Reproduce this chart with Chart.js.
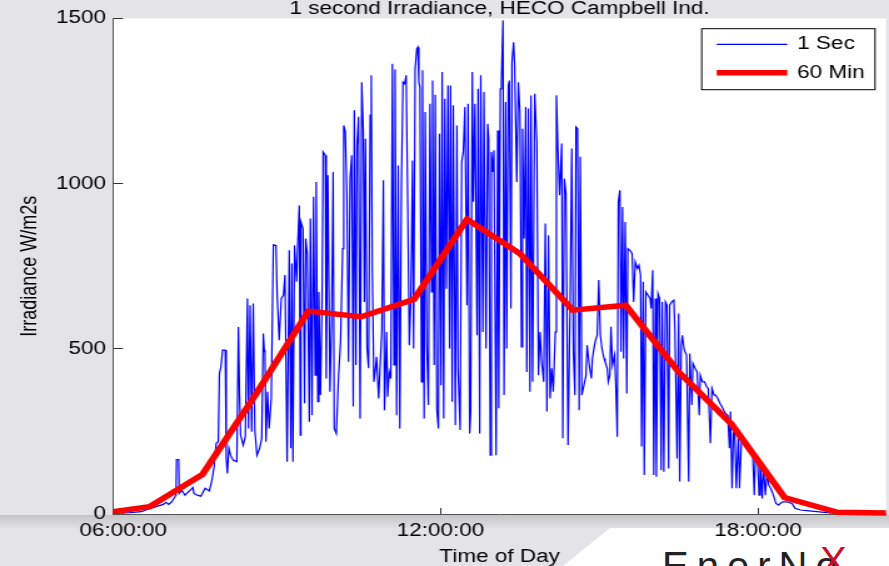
<!DOCTYPE html>
<html>
<head>
<meta charset="utf-8">
<title>1 second Irradiance</title>
<script src="https://cdn.jsdelivr.net/npm/chart.js@4.4.1/dist/chart.umd.min.js"></script>
<style>
  html, body { margin: 0; padding: 0; }
  body {
    width: 889px; height: 566px; overflow: hidden; position: relative;
    background: #e4e4e6; font-family: "Liberation Sans", Arial, sans-serif;
  }
  /* slide decoration under the axis */
  #band { position: absolute; left: 0; top: 515px; width: 889px; height: 13px;
          background: linear-gradient(#c6c6c8, #dfdfe1); }
  #slide { position: absolute; left: 0; top: 528px; width: 889px; height: 38px; background: #fff;
           clip-path: polygon(610px 0, 889px 0, 889px 38px, 563px 38px); }
  #logo { position: absolute; left: 662px; top: 546px; font-size: 40px; line-height: 40px;
          letter-spacing: 8px; color: #222; white-space: nowrap; }
  #logoX { position: absolute; left: 820px; top: 541px; font-size: 40px; line-height: 40px; color: #c8102e; }
  /* the source picture is stretched sideways, so the chart is too; the title is cut at the top */
  #wrap { position: absolute; left: 0; top: -6px; width: 711px; height: 572px;
          transform: scaleX(1.2504); transform-origin: 0 0; }
</style>
</head>
<body>
<div id="band"></div>
<div id="slide"></div>
<div id="logo">EnerNo</div>
<div id="logoX">X</div>
<div id="wrap"><canvas id="chart" width="711" height="572"></canvas></div>
<script>
// axes (hours of the day, W/m2)
const xMinHour = 5.81;
const xMaxHour = 20.42;
const timeTicks = [6, 12, 18];
const irrTicks = [0, 500, 1000, 1500];

// 60 minute means
const hourTimes = [5.5, 6.5, 7.5, 8.5, 9.5, 10.5, 11.5, 12.5, 13.5, 14.5, 15.5, 16.5, 17.5, 18.5, 19.5, 20.5];
const hourMeans = [0, 22, 120, 360, 614, 597, 650, 892, 788, 617, 632, 430, 272, 50, 5, 3];

// 1 second samples, [hour, W/m2]
const secSamples = [
  [5.80,2],[6.13,4],[6.35,7],[6.45,14],[6.76,29],[6.81,35],[6.86,29],[6.92,37],[6.96,47],[7.00,57],
  [7.01,165],[7.05,165],[7.06,62],[7.11,72],[7.17,57],[7.27,72],[7.32,80],[7.34,62],[7.40,57],[7.47,54],
  [7.55,78],[7.63,70],[7.68,103],[7.72,143],[7.76,214],[7.80,219],[7.82,425],[7.85,446],[7.88,496],[7.93,496],
  [7.95,168],[7.97,123],[8.00,199],[8.03,178],[8.08,163],[8.15,158],[8.18,566],[8.20,365],[8.22,239],[8.27,209],
  [8.31,234],[8.35,652],[8.37,259],[8.40,632],[8.43,249],[8.46,637],[8.49,254],[8.53,178],[8.58,199],[8.62,229],
  [8.65,546],[8.67,491],
  [8.68,496],[8.70,219],[8.73,370],[8.76,259],[8.80,350],[8.84,815],[8.89,813],[8.91,672],[8.95,526],[8.99,652],
  [9.03,662],[9.06,723],[9.10,158],[9.14,798],[9.17,199],[9.19,758],[9.21,158],[9.24,813],[9.28,703],[9.30,813],
  [9.33,934],[9.35,239],[9.36,884],[9.40,864],[9.43,335],[9.45,834],[9.48,788],[9.52,279],[9.54,894],[9.57,299],
  [9.60,960],[9.63,420],[9.65,1005],[9.68,340],[9.70,672],[9.73,360],[9.76,642],[9.78,1096],[9.82,1086],[9.84,410],
  [9.87,1025],[9.91,370],[9.94,582],[9.97,1035],[9.99,259],[10.03,244],[10.07,410],[10.11,521],[10.15,803],[10.17,1176],
  [10.20,1156],[10.23,960],[10.26,461],[10.29,1015],[10.32,1086],[10.35,325],[10.37,1222],[10.40,451],[10.42,1116],[10.45,1202],
  [10.48,289],[10.51,1307],[10.54,1161],[10.56,642],[10.58,1136],[10.61,501],[10.64,441],[10.67,1207],[10.69,1328],[10.71,738],
  [10.74,400],[10.77,441],[10.79,476],[10.83,350],[10.85,420],[10.89,556],[10.92,1010],[10.94,314],[10.98,551],[11.00,355],
  [11.03,430],[11.06,410],[11.09,1363],[11.12,451],[11.14,1345],[11.17,299],[11.20,1055],[11.23,259],[11.26,990],[11.29,1307],
  [11.32,1302],[11.35,1328],[11.38,935],[11.41,511],[11.44,662],[11.47,1070],[11.49,501],[11.52,1348],[11.55,1408],[11.57,1413],
  [11.59,1307],
  [11.61,1292],[11.64,400],[11.66,1343],[11.69,289],[11.71,1217],[11.74,511],[11.77,330],[11.80,1242],[11.83,672],[11.85,1312],
  [11.88,451],[11.90,1269],[11.93,315],[11.96,259],[11.98,1151],[12.01,390],[12.03,1338],[12.06,289],[12.08,1257],[12.11,682],
  [12.14,1297],[12.17,501],[12.19,1297],[12.22,340],[12.24,1237],[12.28,269],[12.31,1176],[12.33,441],[12.37,254],[12.40,1065],
  [12.43,1096],[12.46,1232],[12.50,632],[12.52,1242],[12.55,244],[12.57,310],[12.60,1338],[12.62,945],[12.65,1242],[12.69,541],
  [12.71,1287],[12.74,244],[12.76,1328],[12.80,551],[12.82,1277],[12.86,501],[12.89,1181],[12.91,1136],[12.94,178],[12.96,1096],
  [12.99,1035],[13.01,1101],[13.05,178],[13.08,1161],[13.10,320],[13.13,1287],[13.15,1307],[13.18,1494],[13.20,360],[13.23,1247],
  [13.25,501],[13.28,1297],[13.30,1312],[13.33,622],[13.35,1368],[13.38,1428],[13.40,1363],[13.44,1005],[13.47,1307],[13.50,1217],
  [13.53,506],[13.55,1166],[13.58,834],[13.61,1232],[13.63,430],[13.66,1227],[13.69,370],[13.71,1267],[13.74,400],[13.78,1272],
  [13.82,1126],[13.85,420],[13.88,551],[13.91,461],[13.95,400],[13.98,879],[14.01,310],[14.04,844],[14.07,350],[14.10,441],
  [14.13,370],[14.17,551],[14.19,1267],[14.22,1096],[14.25,965],[14.29,1121],[14.31,229],[14.34,1015],[14.37,970],[14.41,209],
  [14.45,652],[14.48,1106],[14.51,491],
  [14.54,360],[14.56,1171],[14.59,1166],[14.62,314],[14.64,1081],[14.67,360],[14.71,390],[14.75,420],[14.77,511],[14.81,451],
  [14.85,410],[14.87,471],[14.91,511],[14.93,526],[14.96,541],[14.99,708],[15.00,652],[15.02,541],[15.05,501],[15.09,471],
  [15.11,461],[15.15,441],[15.17,400],[15.20,420],[15.22,567],[15.25,451],[15.29,481],[15.31,400],[15.34,234],[15.36,945],
  [15.39,980],[15.41,491],[15.44,929],[15.46,471],[15.49,884],[15.52,365],[15.54,803],[15.58,798],[15.62,788],[15.65,642],
  [15.68,763],[15.72,743],[15.75,753],[15.78,723],[15.80,204],[15.83,703],[15.85,118],[15.88,672],[15.92,662],[15.96,652],
  [15.98,622],[16.01,738],[16.03,118],[16.06,652],[16.08,113],[16.11,667],[16.14,652],[16.17,133],[16.19,642],[16.22,128],
  [16.25,642],[16.28,632],[16.31,138],[16.33,632],[16.37,642],[16.41,647],[16.43,556],[16.47,168],[16.50,607],[16.52,98],
  [16.55,511],[16.57,541],[16.60,501],[16.62,491],[16.65,481],[16.69,98],[16.71,486],[16.75,330],[16.77,456],[16.81,441],
  [16.85,430],[16.89,299],[16.91,420],[16.95,400],[16.99,400],[17.03,385],[17.06,380],[17.10,214],[17.13,380],[17.17,360],
  [17.20,360],[17.24,350],[17.28,335],[17.32,325],[17.35,314],[17.39,304],[17.43,299],[17.46,199],
  [17.48,310],[17.51,78],[17.54,269],[17.56,249],[17.59,78],[17.63,249],[17.65,78],[17.69,229],[17.73,219],[17.76,209],
  [17.80,199],[17.85,189],[17.90,179],[17.93,57],[17.95,179],[17.99,168],[18.02,57],[18.04,158],[18.08,47],[18.10,148],
  [18.14,57],[18.17,128],[18.20,88],[18.24,78],[18.29,57],[18.34,32],[18.39,27],[18.42,32],[18.47,37],[18.54,37],
  [18.64,32],[18.70,17],[18.80,12],[18.92,10],[19.11,7],[19.30,4],[19.49,2],[19.74,0],[20.42,0]
];

const FONT = '"Liberation Sans", Arial, sans-serif';
Chart.defaults.font.family = FONT;
Chart.defaults.font.size = 18;
Chart.defaults.color = '#000';

function formatHour(h) {
  return String(Math.floor(h)).padStart(2, '0') + ':00:00';
}

// white plot area on the grey slide
const plotBackground = {
  id: 'plotBackground',
  beforeDraw(chart) {
    const { ctx, chartArea: a } = chart;
    ctx.save();
    ctx.fillStyle = '#ffffff';
    ctx.fillRect(a.left, a.top, a.right - a.left, a.bottom - a.top);
    ctx.restore();
  }
};

// boxed legend in the top right corner, built from the datasets
const boxLegend = {
  id: 'boxLegend',
  afterDraw(chart) {
    const { ctx, chartArea: a } = chart;
    const w = 138.6, h = 61, right = a.right - 8.8, top = a.top + 10.3;
    const left = right - w;
    ctx.save();
    ctx.fillStyle = '#fff';
    ctx.fillRect(left, top, w, h);
    ctx.strokeStyle = '#000';
    ctx.lineWidth = 1;
    ctx.strokeRect(left, top, w, h);
    ctx.font = '18px ' + FONT;
    ctx.textBaseline = 'middle';
    ctx.fillStyle = '#000';
    chart.data.datasets.forEach((ds, i) => {
      const y = top + 15.7 + i * 28.3;
      ctx.beginPath();
      ctx.strokeStyle = ds.borderColor;
      ctx.lineWidth = ds.borderWidth;
      ctx.moveTo(left + 12, y);
      ctx.lineTo(left + 68.4, y);
      ctx.stroke();
      ctx.fillText(ds.label, left + 76.4, y);
    });
    ctx.restore();
  }
};

new Chart(document.getElementById('chart'), {
  type: 'line',
  data: {
    datasets: [{
      label: '1 Sec',
      data: secSamples.map(([h, w]) => ({ x: h, y: w })),
      borderColor: '#0000ff',
      borderWidth: 1.2,
      pointRadius: 0,
      clip: 0,
      order: 1
    }, {
      label: '60 Min',
      data: hourTimes.map((h, i) => ({ x: h, y: hourMeans[i] })),
      borderColor: '#ff0000',
      borderWidth: 5.5,
      pointRadius: 0,
      clip: { left: 0, top: 0, right: 0, bottom: 3 },
      order: 0
    }]
  },
  options: {
    responsive: false,
    animation: false,
    events: [],
    layout: { padding: { left: 0, right: 2.4, top: 0, bottom: 0 } },
    plugins: {
      legend: { display: false },
      tooltip: { enabled: false },
      title: {
        display: true,
        text: '1 second Irradiance, HECO Campbell Ind.',
        fullSize: false,
        color: '#000',
        font: { size: 18, weight: 'normal' },
        padding: { top: 1, bottom: -1 }
      }
    },
    scales: {
      x: {
        type: 'linear',
        min: xMinHour,
        max: xMaxHour,
        afterBuildTicks: s => { s.ticks = timeTicks.map(v => ({ value: v })); },
        afterFit: s => { s.height = 52; },
        grid: { drawOnChartArea: false, tickLength: -6, color: '#333' },
        border: { color: '#555', width: 1 },
        ticks: { autoSkip: false, maxRotation: 0, padding: 12.7, callback: v => formatHour(v) },
        title: { display: true, text: 'Time of Day', padding: { top: 0, bottom: -1.6 } }
      },
      y: {
        min: 0,
        max: 1500,
        afterBuildTicks: s => { s.ticks = irrTicks.map(v => ({ value: v })); },
        afterFit: s => { s.width = 90.4; },
        grid: { drawOnChartArea: false, tickLength: -8, color: '#333' },
        border: { color: '#555', width: 1 },
        ticks: { padding: 13.6, callback: v => String(v) },
        title: { display: true, text: 'Irradiance W/m2s', padding: { top: 13.4, bottom: 0 } }
      }
    }
  },
  plugins: [plotBackground, boxLegend]
});
</script>
</body>
</html>
